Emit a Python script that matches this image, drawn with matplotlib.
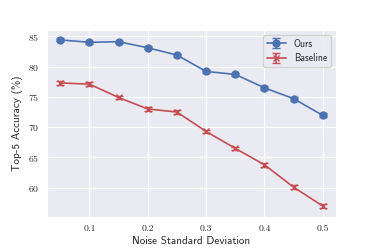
import matplotlib
matplotlib.use("Agg")
import matplotlib.pyplot as plt
import seaborn as sns

noise_std = [0.05, 0.1, 0.15, 0.2, 0.25, 0.3, 0.35, 0.4, 0.45, 0.5]
ours = [84.4, 84.0, 84.1, 83.1, 81.9, 79.2, 78.7, 76.5, 74.7, 71.95]
ours_err = [0.25, 0.2, 0.2, 0.25, 0.25, 0.25, 0.25, 0.3, 0.3, 0.35]
baseline = [77.3, 77.1, 74.9, 73.0, 72.5, 69.3, 66.5, 63.8, 60.1, 57.0]
baseline_err = [0.3, 0.3, 0.3, 0.3, 0.3, 0.3, 0.3, 0.35, 0.35, 0.4]

sns.set_style("darkgrid")
plt.rcParams["font.family"] = ["cmr10", "DejaVu Serif"]
plt.rcParams["axes.formatter.use_mathtext"] = True

fig, ax = plt.subplots(figsize=(3.74, 2.49), dpi=100)
fig.subplots_adjust(left=0.126, right=0.898, bottom=0.129, top=0.88)

ax.errorbar(noise_std, ours, yerr=ours_err, color="#4C72B0", marker="o",
            markersize=5, linewidth=1.2, capsize=3, label="Ours")
ax.errorbar(noise_std, baseline, yerr=baseline_err, color="#C44E52", marker="x",
            markersize=5, linewidth=1.2, capsize=3, label="Baseline")

ax.set_xticks([0.1, 0.2, 0.3, 0.4, 0.5])
ax.set_xticklabels(["0.1", "0.2", "0.3", "0.4", "0.5"])
ax.set_yticks([60, 65, 70, 75, 80, 85])
ax.tick_params(labelsize=7, pad=2)
ax.set_xlabel("Noise Standard Deviation", family="cmss10", fontsize=8, labelpad=2)
ax.set_ylabel("Top-5 Accuracy (%)", family="cmss10", fontsize=8, labelpad=4)
ax.legend(loc="upper right", prop={"family": "cmss10", "size": 7}, frameon=True)

fig.savefig("out.png", dpi=100)
